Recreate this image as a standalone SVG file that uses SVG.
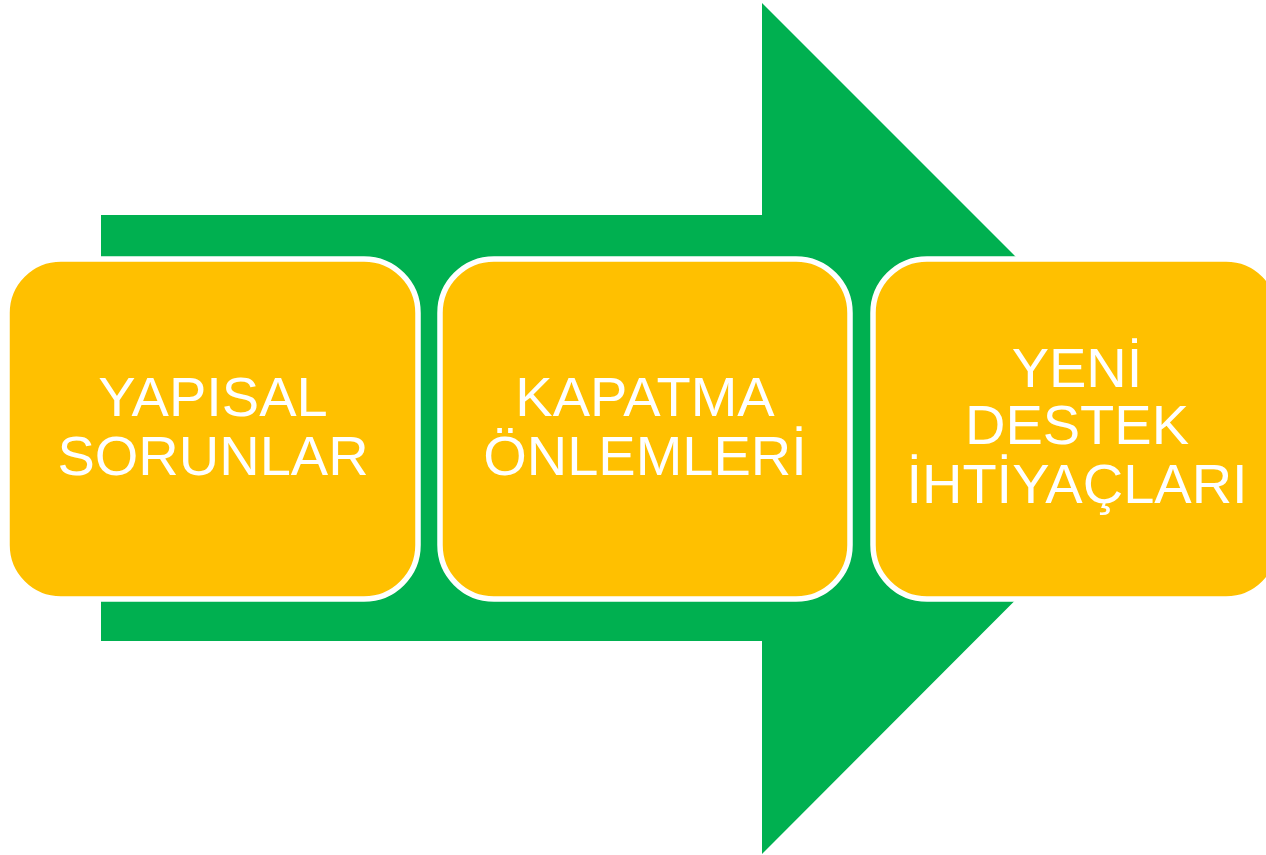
<svg xmlns="http://www.w3.org/2000/svg" width="1266" height="855" viewBox="0 0 1266 855">
<style>
.box{fill:#FFC000;stroke:#FFFFFF;stroke-width:5.5}
.lbl{font-family:"Liberation Sans",Arial,sans-serif;font-size:56px;fill:#FFFFFF;text-anchor:middle}
</style>
<rect width="1266" height="855" fill="#FFFFFF"/>
<g id="arrow">
<polygon points="101,215 762,215 762,3 1187,428 762,854 762,641 101,641" fill="#00B050"/>
</g>
<g id="connectors"></g>
<g id="node1">
<rect class="box" x="7" y="259" width="411" height="340" rx="54" ry="54"/>
<text class="lbl" x="213" y="416">YAPISAL</text>
<text class="lbl" x="213" y="475">SORUNLAR</text>
</g>
<g id="node2">
<rect class="box" x="440" y="259" width="410" height="340" rx="54" ry="54"/>
<text class="lbl" x="645" y="416">KAPATMA</text>
<text class="lbl" x="645" y="475">ÖNLEMLERİ</text>
</g>
<g id="node3">
<rect class="box" x="873" y="259" width="407" height="340" rx="54" ry="54"/>
<text class="lbl" x="1077" y="387">YENİ</text>
<text class="lbl" x="1077" y="444">DESTEK</text>
<text class="lbl" x="1077" y="503">İHTİYAÇLARI</text>
</g>
</svg>
